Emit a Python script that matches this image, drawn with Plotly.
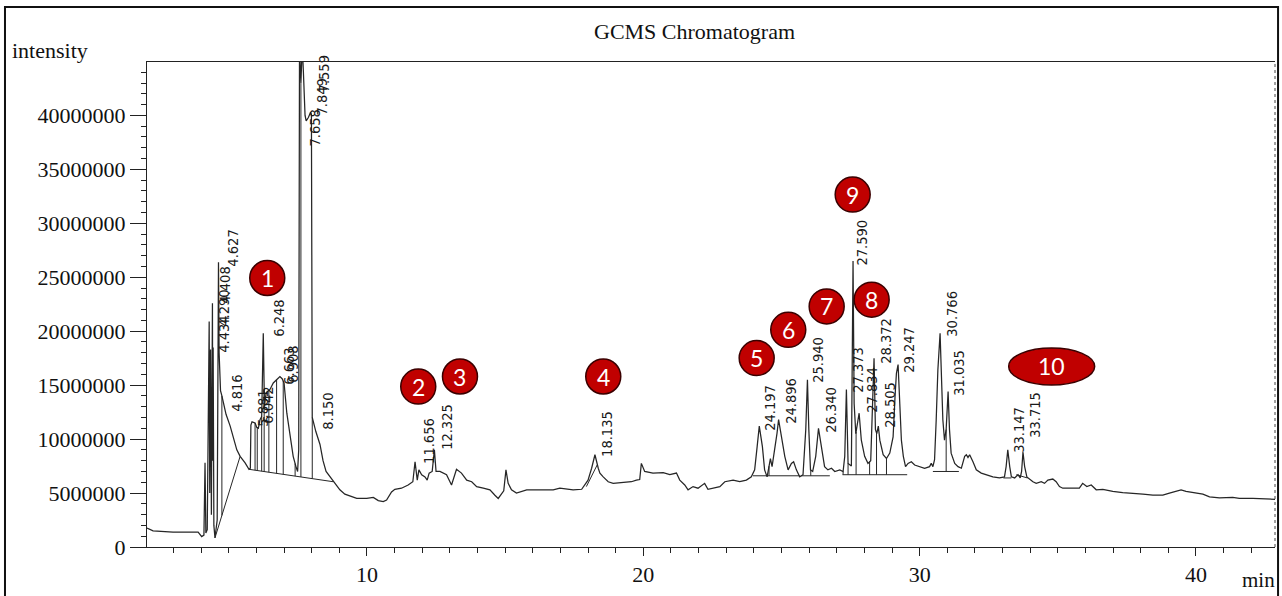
import numpy as np
import plotly.graph_objects as go

# ---------------- data (retention time in min, intensity in millions of counts) ----------------
time_min = [
    2.04, 2.26, 2.98, 3.89, 4.02, 4.10, 4.14, 4.17, 4.22, 4.29, 4.31, 4.34, 4.37, 4.408, 4.42, 4.434,
    4.46, 4.50, 4.58, 4.627, 4.65, 4.70, 4.75, 4.816, 4.90, 5.05, 5.20, 5.29, 5.41, 5.59, 5.73, 5.78,
    5.80, 5.84, 5.95, 6.01, 6.07, 6.13, 6.19, 6.248, 6.29, 6.35, 6.49, 6.61, 6.73, 6.79, 6.85, 6.93,
    7.00, 7.10, 7.22, 7.33, 7.43, 7.49, 7.53, 7.559, 7.61, 7.658, 7.70, 7.76, 7.80, 7.88, 7.96, 7.99,
    8.02, 8.08, 8.15, 8.30, 8.41, 8.52, 8.66, 8.84, 9.02, 9.20, 9.39, 9.63, 9.99, 10.23, 10.41, 10.59,
    10.71, 10.89, 11.01, 11.25, 11.49, 11.66, 11.74, 11.82, 11.88, 11.98, 12.10, 12.18, 12.25, 12.36,
    12.44, 12.50, 12.64, 12.88, 13.06, 13.24, 13.42, 13.61, 13.79, 13.97, 14.21, 14.45, 14.63, 14.75,
    14.95, 15.03, 15.11, 15.23, 15.41, 15.78, 16.26, 16.74, 16.98, 17.46, 17.77, 17.88, 18.00, 18.13,
    18.25, 18.37, 18.43, 18.55, 18.73, 18.91, 19.27, 19.57, 19.75, 19.87, 19.93, 20.05, 20.35, 20.72,
    20.96, 21.20, 21.32, 21.50, 21.62, 21.80, 21.98, 22.22, 22.34, 22.52, 22.77, 22.95, 23.25, 23.49,
    23.73, 23.91, 24.03, 24.12, 24.197, 24.31, 24.39, 24.48, 24.60, 24.66, 24.76, 24.84, 24.896, 25.00,
    25.12, 25.24, 25.36, 25.44, 25.54, 25.66, 25.78, 25.88, 25.94, 25.99, 26.05, 26.13, 26.24, 26.34,
    26.45, 26.56, 26.68, 26.81, 26.93, 27.11, 27.23, 27.29, 27.35, 27.41, 27.53, 27.59, 27.63, 27.69,
    27.81, 27.89, 28.01, 28.13, 28.23, 28.28, 28.35, 28.40, 28.45, 28.505, 28.56, 28.68, 28.80, 28.92,
    29.04, 29.11, 29.16, 29.22, 29.28, 29.34, 29.41, 29.49, 29.58, 29.70, 29.82, 30.00, 30.18, 30.36,
    30.42, 30.48, 30.54, 30.60, 30.66, 30.74, 30.78, 30.84, 30.90, 30.96, 31.03, 31.08, 31.14, 31.27,
    31.39, 31.51, 31.63, 31.69, 31.75, 31.81, 31.93, 32.05, 32.23, 32.41, 32.65, 32.89, 33.07, 33.13,
    33.19, 33.26, 33.32, 33.44, 33.56, 33.64, 33.69, 33.74, 33.80, 33.88, 33.98, 34.10, 34.22, 34.40,
    34.52, 34.64, 34.82, 34.94, 35.06, 35.18, 35.54, 35.78, 35.90, 36.05, 36.21, 36.39, 36.63, 36.99,
    37.35, 37.72, 38.08, 38.44, 38.80, 39.04, 39.28, 39.46, 39.64, 40.01, 40.25, 40.49, 40.85, 41.33,
    41.57, 42.06, 42.54, 43.00,
]
intensity_millions = [
    1.75, 1.50, 1.39, 1.39, 0.96, 1.10, 7.8, 1.3, 1.6, 20.9, 5.0, 18.3, 3.0, 22.6, 8.0, 18.5,
    2.0, 0.85, 2.5, 26.4, 18.0, 14.5, 14.0, 13.1, 12.3, 11.2, 9.8, 9.0, 8.4, 7.8, 7.2, 7.3,
    11.3, 11.6, 11.5, 11.1, 11.0, 11.8, 12.1, 19.8, 13.0, 14.3, 14.6, 15.2, 15.5, 15.7, 15.8, 15.6,
    15.2, 12.4, 10.2, 8.4, 7.45, 7.0, 9.0, 46.5, 43.0, 46.5, 44.0, 40.0, 39.5, 39.8, 40.3, 40.1,
    12.0, 11.3, 10.7, 9.5, 8.0, 7.0, 6.5, 5.9, 5.3, 4.9, 4.7, 4.5, 4.5, 4.6, 4.3, 4.2,
    4.35, 5.1, 5.35, 5.45, 5.75, 6.05, 7.9, 6.2, 7.15, 6.7, 6.5, 6.2, 6.85, 7.0,
    9.0, 7.0, 7.0, 6.7, 5.75, 7.2, 6.85, 6.2, 6.05, 5.6, 5.45, 5.3, 4.8, 4.5,
    5.2, 7.15, 5.9, 5.3, 5.0, 5.3, 5.3, 5.3, 5.45, 5.3, 5.35, 5.75, 6.2, 7.3,
    8.55, 7.3, 6.85, 6.5, 6.05, 5.9, 5.95, 6.05, 6.2, 6.25, 7.75, 7.0, 6.85, 6.9,
    6.7, 6.85, 6.2, 5.75, 5.3, 5.6, 5.45, 5.9, 5.35, 5.45, 5.6, 6.05, 6.2, 6.05,
    6.2, 6.5, 7.15, 9.3, 11.2, 9.3, 7.15, 6.5, 8.2, 7.45, 9.0, 10.55, 11.8, 10.2,
    8.4, 7.15, 7.75, 7.9, 7.15, 6.5, 6.7, 10.9, 15.5, 10.9, 7.15, 7.0, 8.4, 11.0,
    9.0, 7.45, 7.15, 7.3, 7.0, 7.15, 7.0, 8.4, 14.6, 7.75, 7.5, 26.5, 13.3, 10.5,
    12.4, 9.9, 8.4, 7.75, 8.0, 12.0, 17.5, 10.9, 10.5, 11.2, 9.9, 8.55, 8.2, 8.7,
    10.2, 13.95, 16.1, 16.9, 13.95, 9.9, 8.4, 7.45, 7.75, 7.9, 7.6, 7.45, 7.3, 7.45,
    7.75, 7.45, 8.1, 11.8, 16.4, 19.8, 16.4, 11.8, 9.9, 10.9, 14.4, 10.9, 8.7, 7.75,
    7.45, 7.3, 8.4, 8.55, 8.3, 8.55, 7.9, 7.15, 6.85, 6.7, 6.5, 6.4, 6.5, 7.45,
    9.0, 7.45, 6.5, 6.4, 6.7, 6.4, 7.0, 8.8, 7.45, 6.5, 6.3, 6.05, 5.9, 6.05,
    5.9, 6.2, 6.3, 6.05, 5.6, 5.45, 5.45, 5.45, 5.9, 5.6, 5.75, 5.3, 5.35, 5.15,
    5.05, 5.0, 4.9, 4.8, 4.8, 5.0, 5.15, 5.3, 5.15, 5.0, 4.9, 4.65, 4.55, 4.6,
    4.5, 4.5, 4.45, 4.4,
]

# integration baselines (start/end time, start/end intensity in millions)
baseline_start_t = [4.50, 5.73, 17.94, 23.97, 25.70, 27.21, 30.48, 33.03, 33.50]
baseline_start_i = [0.85, 7.2, 5.6, 6.6, 6.6, 6.7, 7.0, 6.4, 6.7]
baseline_end_t = [5.41, 8.78, 18.33, 25.66, 26.75, 29.55, 31.42, 33.32, 33.90]
baseline_end_i = [8.4, 6.05, 7.6, 6.6, 6.6, 6.7, 7.0, 6.4, 6.4]

# peak-separation drop lines (times)
drop_times = [4.75, 5.95, 6.03, 6.19, 6.28, 6.45, 6.73, 6.97, 7.40, 7.61, 8.02,
              24.55, 26.06, 27.23, 27.41, 27.70, 28.19, 28.44, 28.80, 30.96]

# retention-time labels and where they are written (time, intensity in millions)
rt_labels = ["4.434", "4.290", "4.408", "4.627", "4.816", "5.881", "6.042", "6.248", "6.663", "6.908",
             "7.658", "7.849", "7.559", "8.150", "11.656", "12.325", "18.135", "24.197", "24.896",
             "25.940", "26.340", "27.373", "27.590", "27.834", "28.372", "28.505", "29.247",
             "30.766", "31.035", "33.147", "33.715"]
rt_label_t = [4.825, 4.825, 4.861, 5.151, 5.296, 6.236, 6.417, 6.815, 7.177, 7.322,
              8.154, 8.371, 8.444, 8.589, 12.244, 12.895, 18.685, 24.584, 25.344,
              26.321, 26.791, 27.769, 27.913, 28.275, 28.782, 28.927, 29.614,
              31.170, 31.424, 33.595, 34.174]
rt_label_i = [19.76, 22.17, 24.31, 27.74, 14.29, 12.90, 13.18, 21.25, 16.79, 16.98,
              38.88, 41.75, 43.89, 12.62, 9.83, 11.13, 10.48, 12.90, 13.55,
              17.35, 12.71, 16.42, 28.21, 14.57, 19.11, 13.18, 18.28,
              21.62, 16.14, 10.86, 12.25]

# numbered compound badges (time, intensity in millions)
badge_numbers = ["1", "2", "3", "4", "5", "6", "7", "8", "9", "10"]
badge_t = [6.392, 11.856, 13.366, 18.551, 24.103, 25.246, 26.636, 28.264, 27.577, 34.778]
badge_i = [24.93, 14.87, 15.80, 15.80, 17.51, 20.13, 22.30, 22.92, 32.66, 16.73]

# ---------------- build ----------------
M = 1e6
t = np.array(time_min)
y = np.array(intensity_millions) * M

bx, by = [], []
for a, ia, b, ib in zip(baseline_start_t, baseline_start_i, baseline_end_t, baseline_end_i):
    bx += [a, b, None]
    by += [ia * M, ib * M, None]

dx, dy = [], []
for d in drop_times:
    base = None
    for a, ia, b, ib in zip(baseline_start_t, baseline_start_i, baseline_end_t, baseline_end_i):
        if a <= d <= b:
            base = (ia + (ib - ia) * (d - a) / (b - a)) * M
            break
    if base is None:
        continue
    top = float(np.interp(d, t, y))
    dx += [d, d, None]
    dy += [base, top, None]

LINE = "#262626"
fig = go.Figure()
fig.add_trace(go.Scatter(x=bx, y=by, mode="lines", line=dict(color=LINE, width=1), hoverinfo="skip"))
fig.add_trace(go.Scatter(x=dx, y=dy, mode="lines", line=dict(color=LINE, width=1), hoverinfo="skip"))
fig.add_trace(go.Scatter(x=t, y=y, mode="lines", line=dict(color=LINE, width=1.25), hoverinfo="skip"))

SERIF = "Liberation Serif, Times New Roman, serif"
NARROW = "Liberation Sans Narrow, DejaVu Sans Condensed, Arial Narrow, sans-serif"

annotations = []
for lab, lt, li in zip(rt_labels, rt_label_t, rt_label_i):
    annotations.append(dict(x=lt, y=li * M, xref="x", yref="y", text=lab, showarrow=False,
                            textangle=-90, xanchor="center", yanchor="middle",
                            font=dict(family=NARROW, size=14.5, color="#1a1a1a")))

shapes = []
for num, bt, bi in zip(badge_numbers, badge_t, badge_i):
    rx, ry = (43, 18.5) if len(num) > 1 else (17.5, 17.5)
    shapes.append(dict(type="circle", xref="x", yref="y", xsizemode="pixel", ysizemode="pixel",
                       xanchor=bt, yanchor=bi * M, x0=-rx, x1=rx, y0=-ry, y1=ry,
                       fillcolor="#C00000", line=dict(color="#3a0000", width=1.5), layer="above"))
    annotations.append(dict(x=bt, y=bi * M, xref="x", yref="y", text=num, showarrow=False,
                            xanchor="center", yanchor="middle",
                            font=dict(family="Lato, Open Sans, sans-serif", size=23, color="white")))

# right edge of the plot frame (dotted) and outer border
shapes.append(dict(type="line", xref="paper", yref="paper", x0=1, x1=1, y0=0, y1=1,
                   line=dict(color="#444", width=1, dash="dot")))
shapes.append(dict(type="rect", xref="paper", yref="paper", x0=-0.1259, x1=1.0027, y0=-0.13, y1=1.1134,
                   line=dict(color="#111", width=2), fillcolor="rgba(0,0,0,0)"))

annotations += [
    dict(xref="paper", yref="paper", x=0.4858, y=1.0639, text="GCMS Chromatogram", showarrow=False,
         xanchor="center", yanchor="middle", font=dict(family=SERIF, size=22, color="#111")),
    dict(xref="paper", yref="paper", x=-0.1215, y=1.0247, text="intensity", showarrow=False,
         xanchor="left", yanchor="middle", font=dict(family=SERIF, size=22, color="#111")),
    dict(xref="paper", yref="paper", x=0.985, y=-0.0969, text="min", showarrow=False,
         xanchor="center", yanchor="bottom", font=dict(family=SERIF, size=21, color="#111")),
]

fig.update_layout(
    width=1282, height=596,
    margin=dict(l=147, r=7, t=62, b=49),
    paper_bgcolor="white", plot_bgcolor="white",
    showlegend=False,
    shapes=shapes, annotations=annotations,
    xaxis=dict(range=[2.04, 42.86], showgrid=False, zeroline=False,
               showline=True, linecolor="#222", linewidth=1, mirror=True,
               ticks="outside", ticklen=8, tickcolor="#222", tick0=0, dtick=10,
               minor=dict(ticks="outside", ticklen=5, tickcolor="#222", dtick=1, showgrid=False),
               tickfont=dict(family=SERIF, size=22, color="#111")),
    yaxis=dict(range=[0, 44.95e6], showgrid=False, zeroline=False,
               showline=True, linecolor="#222", linewidth=1,
               ticks="outside", ticklen=16, tickcolor="#222", tick0=0, dtick=5e6, tickformat="d",
               minor=dict(ticks="outside", ticklen=5, tickcolor="#222", dtick=1e6, showgrid=False),
               tickfont=dict(family=SERIF, size=22, color="#111")),
)

fig.write_html(
    "out.html",
    config={"displayModeBar": False},
    post_script="document.body.style.margin='0px';document.body.style.padding='0px';"
                "document.body.style.overflow='hidden';",
)
